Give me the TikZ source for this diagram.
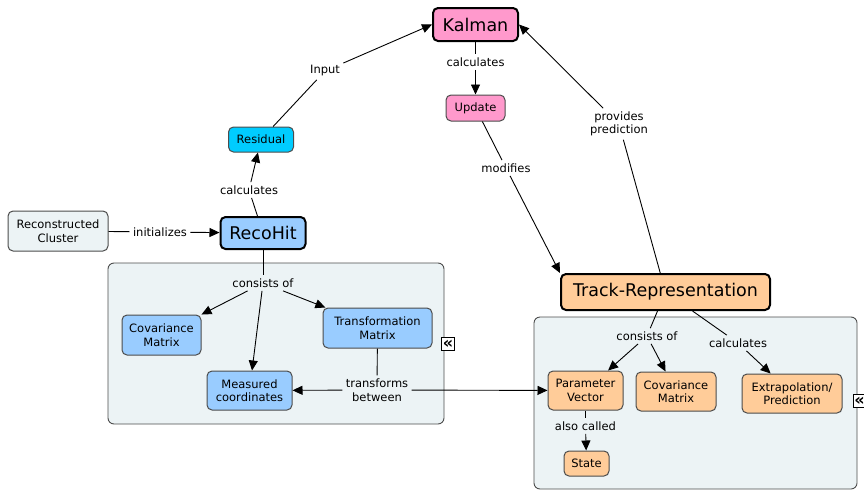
\documentclass[tikz,border=0pt]{standalone}
\usepackage{fontspec}
\setmainfont{DejaVu Sans}
\usetikzlibrary{arrows.meta}
\definecolor{kalpink}{RGB}{255,153,204}
\definecolor{rescyan}{RGB}{0,204,255}
\definecolor{hitblue}{RGB}{153,204,255}
\definecolor{trkorange}{RGB}{255,204,153}
\definecolor{groupgray}{RGB}{236,243,245}
\begin{document}
\begin{tikzpicture}[x=1pt,y=-1pt,line width=.9pt,
    concept/.style={draw=black!70,line width=1pt,rounded corners=5pt,align=center,inner sep=1pt,font=\fontsize{11.5}{13.5}\selectfont},
    major/.style={concept,draw=black,line width=2pt,font=\fontsize{17.5}{20}\selectfont},
    link/.style={align=center,inner sep=3pt,font=\fontsize{11.5}{13.5}\selectfont},
    arr/.style={-{Triangle[length=10pt,width=9pt]}},
    group/.style={draw=black!70,line width=.9pt,fill=groupgray,rounded corners=6pt},
    fold/.style={draw,fill=white,minimum size=13pt,inner sep=0pt,font=\fontsize{16}{16}\selectfont\bfseries}]
    \useasboundingbox (0,0) rectangle (864,490);
    % groups
    \draw [group] (108,263) rectangle (444,424);
    \draw [group] (534,317) rectangle (857,489);
    \node [fold] (foldL) at (448,344) {«};
    \node [fold] (foldR) at (859.5,401) {«};
    % concepts
    \node [major,fill=kalpink,minimum width=85,minimum height=33] (kalman) at (475.5,24.5) {Kalman};
    \node [concept,fill=kalpink,minimum width=59,minimum height=26] (update) at (475.5,108) {Update};
    \node [concept,fill=rescyan,minimum width=65,minimum height=25] (resid) at (261,139.5) {Residual};
    \node [major,fill=hitblue,minimum width=85,minimum height=32] (reco) at (263,233) {RecoHit};
    \node [concept,fill=groupgray,minimum width=100,minimum height=40] (cluster) at (58,231) {Reconstructed\\Cluster};
    \node [concept,fill=hitblue,minimum width=79,minimum height=40] (covL) at (161.5,335) {Covariance\\Matrix};
    \node [concept,fill=hitblue,minimum width=109,minimum height=40] (trans) at (377.5,328) {Transformation\\Matrix};
    \node [concept,fill=hitblue,minimum width=85,minimum height=39] (meas) at (249.5,390.5) {Measured\\coordinates};
    \node [major,fill=trkorange,minimum width=209,minimum height=36] (track) at (665.5,292) {Track-Representation};
    \node [concept,fill=trkorange,minimum width=75,minimum height=39] (param) at (585.5,390.5) {Parameter\\Vector};
    \node [concept,fill=trkorange,minimum width=80,minimum height=39] (covR) at (676,391.5) {Covariance\\Matrix};
    \node [concept,fill=trkorange,minimum width=100,minimum height=39] (extrap) at (792,393.5) {Extrapolation/\\Prediction};
    \node [concept,fill=trkorange,minimum width=45,minimum height=25] (state) at (586.5,463.5) {State};
    % linking phrases
    \node [link] (lInput) at (325,71) {Input};
    \node [link] (lCalcK) at (475.5,62) {calculates};
    \node [link] (lProv) at (619,124) {provides\\prediction};
    \node [link] (lMod) at (506,168) {modifies};
    \node [link] (lCalcR) at (249,190) {calculates};
    \node [link] (lInit) at (160,232) {initializes};
    \node [link] (lConsL) at (263,283) {consists of};
    \node [link] (lTrans) at (377,390) {transforms\\between};
    \node [link] (lConsR) at (647,336) {consists of};
    \node [link] (lCalcT) at (738,343) {calculates};
    \node [link] (lAlso) at (585.5,426) {also called};
    % connectors
    \draw (resid) -- (lInput);
    \draw [arr] (lInput) -- (kalman.west);
    \draw (kalman) -- (lCalcK);
    \draw [arr] (lCalcK) -- (update);
    \draw (track) -- (lProv);
    \draw [arr] (lProv) -- (kalman.east);
    \draw (update) -- (lMod);
    \draw [arr] (lMod) -- (track.north west);
    \draw (reco) -- (lCalcR);
    \draw [arr] (lCalcR) -- (resid);
    \draw (cluster) -- (lInit);
    \draw [arr] (lInit) -- (reco);
    \draw (reco) -- (lConsL);
    \draw [arr] (lConsL) -- (covL);
    \draw [arr] (lConsL) -- (meas);
    \draw [arr] (lConsL) -- (trans);
    \draw (trans) -- (lTrans);
    \draw [arr] (lTrans) -- (meas);
    \draw [arr] (lTrans) -- (param);
    \draw (track) -- (lConsR);
    \draw [arr] (lConsR) -- (param);
    \draw [arr] (lConsR) -- (covR);
    \draw (track) -- (lCalcT);
    \draw [arr] (lCalcT) -- (extrap);
    \draw (param) -- (lAlso);
    \draw [arr] (lAlso) -- (state);
\end{tikzpicture}
\end{document}
